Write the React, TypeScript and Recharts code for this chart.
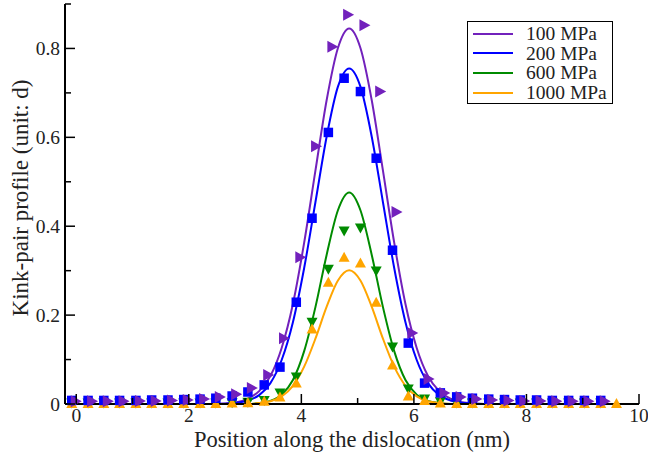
import React from 'react'
import { ComposedChart, Line, Scatter, XAxis, YAxis, Legend, Label } from 'recharts'

// lattice sites (nm) where the kink-pair height was sampled
const sitePos = [
  -0.08, 0.21, 0.49, 0.77, 1.06, 1.34, 1.63, 1.91, 2.2, 2.48, 2.77, 3.05, 3.34, 3.62, 3.91, 4.19, 4.48,
  4.76, 5.05, 5.33, 5.62, 5.9, 6.19, 6.47, 6.76, 7.04, 7.33, 7.61, 7.89, 8.18, 8.46, 8.75, 9.03, 9.32, 9.6,
]
// the 100 MPa symbols sit a little to the right of the others
const sitePos100 = [
  0.0, 0.29, 0.57, 0.85, 1.14, 1.42, 1.71, 1.99, 2.28, 2.56, 2.85, 3.13, 3.42, 3.7, 3.99, 4.27, 4.56, 4.84,
  5.13, 5.41, 5.7, 5.98, 6.27, 6.55, 6.84, 7.12, 7.4, 7.69, 7.97, 8.26, 8.54, 8.83, 9.11, 9.4,
]

const mpa100 = [
  0.006, 0.006, 0.006, 0.006, 0.007, 0.007, 0.008, 0.009, 0.011, 0.016, 0.022, 0.036, 0.065, 0.148, 0.33,
  0.58, 0.804, 0.876, 0.852, 0.703, 0.432, 0.16, 0.056, 0.025, 0.016, 0.011, 0.009, 0.008, 0.007, 0.007,
  0.006, 0.006, 0.006, 0.006,
]
const mpa200 = [
  0.008, 0.008, 0.008, 0.008, 0.008, 0.009, 0.009, 0.01, 0.011, 0.013, 0.018, 0.027, 0.043, 0.083, 0.229,
  0.418, 0.611, 0.733, 0.703, 0.553, 0.346, 0.137, 0.047, 0.025, 0.016, 0.013, 0.011, 0.01, 0.009, 0.009,
  0.008, 0.008, 0.008, 0.008,
]
const mpa600 = [
  0.002, 0.002, 0.002, 0.002, 0.002, 0.002, 0.002, 0.002, 0.002, 0.002, 0.003, 0.004, 0.008, 0.025, 0.061,
  0.184, 0.303, 0.389, 0.396, 0.299, 0.128, 0.034, 0.011, 0.005, 0.002, 0.002, 0.002, 0.002, 0.002, 0.002,
  0.002, 0.002, 0.002, 0.002,
]
const mpa1000 = [
  0.001, 0.001, 0.001, 0.001, 0.001, 0.001, 0.001, 0.001, 0.001, 0.001, 0.002, 0.003, 0.006, 0.016, 0.047,
  0.169, 0.274, 0.33, 0.317, 0.229, 0.088, 0.018, 0.008, 0.002, 0.001, 0.001, 0.001, 0.001, 0.001, 0.001,
  0.001, 0.001, 0.001, 0.001, 0.001,
]

// fitted profiles
const fitX = [
  -0.05, 2.45, 2.85, 3.05, 3.25, 3.45, 3.65, 3.85, 4.05, 4.25, 4.45, 4.65, 4.85, 5.05, 5.25, 5.45, 5.65,
  5.85, 6.05, 6.25, 6.45, 6.65, 6.85, 7.25, 9.6,
]
const fit100 = [
  0, 0, 0.004, 0.012, 0.029, 0.063, 0.126, 0.225, 0.363, 0.525, 0.684, 0.801, 0.845, 0.801, 0.684, 0.525,
  0.363, 0.225, 0.126, 0.063, 0.029, 0.012, 0.004, 0, 0,
]
const fit200 = [
  0, 0, 0.003, 0.008, 0.02, 0.047, 0.099, 0.184, 0.306, 0.454, 0.602, 0.714, 0.755, 0.714, 0.602, 0.454,
  0.306, 0.184, 0.099, 0.047, 0.02, 0.008, 0.003, 0, 0,
]
const fit600 = [
  0, 0, 0, 0, 0.002, 0.007, 0.021, 0.054, 0.119, 0.218, 0.336, 0.436, 0.476, 0.436, 0.336, 0.218, 0.119,
  0.054, 0.021, 0.007, 0.002, 0, 0, 0, 0,
]
const fit1000 = [
  0, 0, 0, 0, 0.002, 0.006, 0.017, 0.041, 0.084, 0.147, 0.219, 0.278, 0.301, 0.278, 0.219, 0.147, 0.084,
  0.041, 0.017, 0.006, 0.002, 0, 0, 0, 0,
]

const seriesNames = ['100 MPa', '200 MPa', '600 MPa', '1000 MPa']
const seriesColors = ['#7221bc', '#0000ff', '#008b00', '#ffa500']

const xMajor = [0, 2, 4, 6, 8, 10]
const xMinor = [1, 3, 5, 7, 9]
const yMajor = [0, 0.2, 0.4, 0.6, 0.8]
const yMinor = [0.1, 0.3, 0.5, 0.7, 0.9]

const FONT = '"Liberation Serif", "Times New Roman", serif'
const TEXT = '#222'

const toPoints = (xs: number[], ys: number[]) => ys.map((y, i) => ({ x: xs[i], y }))

const isMajorX = (v: number) => xMajor.includes(v)
const isMajorY = (v: number) => yMajor.includes(v)

function BottomTick({ x, y, payload }: any) {
  const major = isMajorX(payload.value)
  return (
    <g>
      <line x1={x} y1={y} x2={x} y2={y - (major ? 10 : 6)} stroke="#000" strokeWidth={1.5} />
      {major && (
        <text x={x} y={y + 18} textAnchor="middle" fontSize={19.5} fontFamily={FONT} fill={TEXT}>
          {payload.value}
        </text>
      )}
    </g>
  )
}

function TopTick({ x, y, payload }: any) {
  const major = isMajorX(payload.value)
  return <line x1={x} y1={y} x2={x} y2={y + (major ? 10 : 6)} stroke="#000" strokeWidth={1.5} />
}

function LeftTick({ x, y, payload }: any) {
  const major = isMajorY(payload.value)
  return (
    <g>
      <line x1={x} y1={y} x2={x + (major ? 10 : 6)} y2={y} stroke="#000" strokeWidth={1.5} />
      {major && (
        <text x={x - 5} y={y + 7} textAnchor="end" fontSize={19.5} fontFamily={FONT} fill={TEXT}>
          {payload.value}
        </text>
      )}
    </g>
  )
}

function RightTick({ x, y, payload }: any) {
  const major = isMajorY(payload.value)
  return <line x1={x} y1={y} x2={x - (major ? 10 : 6)} y2={y} stroke="#000" strokeWidth={1.5} />
}

// symbol shapes, grace style
const rightTriangle = (color: string) => (p: any) => (
  <polygon points={`${p.cx - 5.5},${p.cy - 6} ${p.cx + 5.5},${p.cy} ${p.cx - 5.5},${p.cy + 6}`} fill={color} />
)
const square = (color: string) => (p: any) => <rect x={p.cx - 4.75} y={p.cy - 4.75} width={9.5} height={9.5} fill={color} />
const downTriangle = (color: string) => (p: any) => (
  <polygon points={`${p.cx - 5.5},${p.cy - 4.5} ${p.cx + 5.5},${p.cy - 4.5} ${p.cx},${p.cy + 5.5}`} fill={color} />
)
const upTriangle = (color: string) => (p: any) => (
  <polygon points={`${p.cx - 5.5},${p.cy + 4.5} ${p.cx + 5.5},${p.cy + 4.5} ${p.cx},${p.cy - 5.5}`} fill={color} />
)

function LegendBox() {
  return (
    <div
      style={{
        width: 146,
        height: 83,
        border: '1.5px solid #000',
        boxSizing: 'border-box',
        background: '#fff',
        paddingTop: 2,
      }}
    >
      {seriesNames.map((name, i) => (
        <div key={name} style={{ display: 'flex', alignItems: 'center', height: 19.6 }}>
          <div style={{ width: 40, height: 2, marginLeft: 5, background: seriesColors[i] }} />
          <span
            style={{ marginLeft: 13, fontFamily: FONT, fontSize: 19.5, color: TEXT, lineHeight: '19.6px' }}
          >
            {name}
          </span>
        </div>
      ))}
    </div>
  )
}

export default function App() {
  const fits = [fit100, fit200, fit600, fit1000]
  return (
    <div style={{ position: 'absolute', left: 0, top: 0, background: '#fff' }}>
      <ComposedChart width={648} height={454} margin={{ top: 4, right: 9, bottom: 0, left: 0 }}>
        <XAxis
          type="number"
          dataKey="x"
          domain={[-0.2, 10]}
          ticks={[...xMajor, ...xMinor]}
          interval={0}
          height={50}
          tickSize={0}
          tickMargin={0}
          tickLine={false}
          tick={BottomTick}
          axisLine={{ stroke: '#000', strokeWidth: 2 }}
        >
          <Label
            content={() => (
              <text x={352} y={446.5} textAnchor="middle" fontSize={22.5} fontFamily={FONT} fill={TEXT}>
                Position along the dislocation (nm)
              </text>
            )}
          />
        </XAxis>
        <XAxis
          xAxisId="top"
          orientation="top"
          type="number"
          dataKey="x"
          domain={[-0.2, 10]}
          ticks={[...xMajor, ...xMinor]}
          interval={0}
          height={0}
          tickSize={0}
          tickMargin={0}
          tickLine={false}
          tick={TopTick}
          axisLine={{ stroke: '#000', strokeWidth: 2 }}
        />
        <YAxis
          type="number"
          dataKey="y"
          domain={[0, 0.9]}
          ticks={[...yMajor, ...yMinor]}
          interval={0}
          width={65}
          tickSize={0}
          tickMargin={0}
          tickLine={false}
          tick={LeftTick}
          axisLine={{ stroke: '#000', strokeWidth: 2 }}
        >
          <Label
            content={() => (
              <text
                x={28}
                y={198}
                transform="rotate(-90 28 198)"
                textAnchor="middle"
                fontSize={23}
                fontFamily={FONT}
                fill={TEXT}
              >
                Kink-pair profile (unit: d)
              </text>
            )}
          />
        </YAxis>
        <YAxis
          yAxisId="right"
          orientation="right"
          type="number"
          domain={[0, 0.9]}
          ticks={[...yMajor, ...yMinor]}
          interval={0}
          width={0}
          tickSize={0}
          tickMargin={0}
          tickLine={false}
          tick={RightTick}
          axisLine={{ stroke: '#000', strokeWidth: 2 }}
        />

        {fits.map((f, i) => (
          <Line
            key={seriesNames[i]}
            data={toPoints(fitX, f)}
            dataKey="y"
            type="monotone"
            stroke={seriesColors[i]}
            strokeWidth={2}
            dot={false}
            activeDot={false}
            isAnimationActive={false}
          />
        ))}

        <Scatter data={toPoints(sitePos, mpa600)} dataKey="y" shape={downTriangle(seriesColors[2])} isAnimationActive={false} />
        <Scatter data={toPoints(sitePos, mpa1000)} dataKey="y" shape={upTriangle(seriesColors[3])} isAnimationActive={false} />
        <Scatter data={toPoints(sitePos, mpa200)} dataKey="y" shape={square(seriesColors[1])} isAnimationActive={false} />
        <Scatter data={toPoints(sitePos100, mpa100)} dataKey="y" shape={rightTriangle(seriesColors[0])} isAnimationActive={false} />

        <Legend
          layout="horizontal"
          verticalAlign="middle"
          align="center"
          content={() => <LegendBox />}
          wrapperStyle={{ left: 467, top: 21, width: 146, height: 83 }}
        />
      </ComposedChart>
    </div>
  )
}
